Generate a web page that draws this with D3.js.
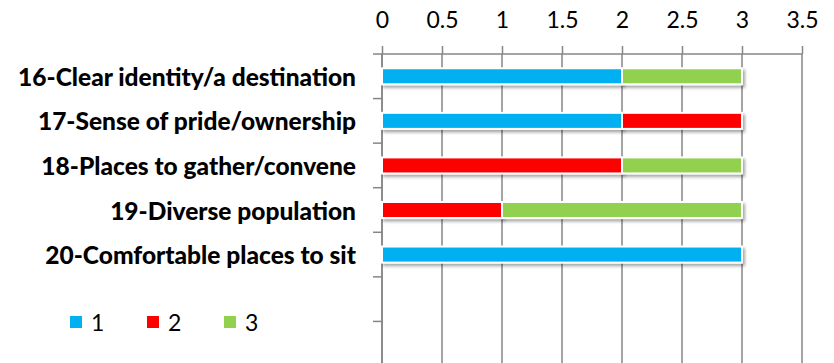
<!DOCTYPE html>
<html>
<head>
<meta charset="utf-8">
<script src="https://cdn.jsdelivr.net/npm/d3@7"></script>
<style>
  html, body { margin: 0; padding: 0; background: #fff; }
  svg { display: block; }
</style>
</head>
<body>
<svg id="chart" width="834" height="363"></svg>
<script>
// Survey items (rows, top to bottom)
const categories = [
  "16-Clear identity/a destination",
  "17-Sense of pride/ownership",
  "18-Places to gather/convene",
  "19-Diverse population",
  "20-Comfortable places to sit"
];
// Stacked series values per item
const seriesNames = ["1", "2", "3"];
const series1 = [2, 2, 0, 0, 3];
const series2 = [0, 1, 2, 1, 0];
const series3 = [1, 0, 1, 2, 0];
const seriesColors = ["#00B0F0", "#FF0000", "#92D050"];
const xTicks = [0, 0.5, 1, 1.5, 2, 2.5, 3, 3.5];
// the category axis reserves seven slots; the last two are unused
const slotCount = 7;

const svg = d3.select("#chart");
const W = 834, H = 363;
const plot = { left: 382, right: 802, top: 54, bottom: 366 };

const x = d3.scaleLinear().domain([0, 3.5]).range([plot.left, plot.right]);
const y = d3.scaleBand().domain(d3.range(slotCount)).range([plot.top, plot.bottom]).paddingInner(0.64).paddingOuter(0.32);
const yEdge = d3.scaleLinear().domain([0, slotCount]).range([plot.top, plot.bottom]);

const defs = svg.append("defs");
const f = defs.append("filter").attr("id", "shadow").attr("x", "-5%").attr("y", "-50%").attr("width", "115%").attr("height", "220%");
f.append("feDropShadow").attr("dx", 2).attr("dy", 2.5).attr("stdDeviation", 1.6)
  .attr("flood-color", "#000").attr("flood-opacity", 0.35);

const gridColor = "#868686";
const font = "Lato, 'Open Sans', sans-serif";

// vertical gridlines
svg.append("g").selectAll("line").data(xTicks).join("line")
  .attr("x1", d => x(d)).attr("x2", d => x(d))
  .attr("y1", plot.top).attr("y2", H + 5)
  .attr("stroke", gridColor).attr("stroke-width", 1.5);

// top axis
const xAxis = d3.axisTop(x).tickValues(xTicks).tickSize(8).tickPadding(18)
  .tickFormat(d => String(d));
const gx = svg.append("g").attr("transform", `translate(0,${plot.top})`).call(xAxis);
gx.select(".domain").remove();
gx.selectAll(".tick line").attr("stroke", gridColor).attr("stroke-width", 1.5);
gx.selectAll(".tick text").attr("fill", "#000")
  .style("font-family", font).style("font-size", "23px");
svg.append("line")
  .attr("x1", plot.left - 9).attr("x2", plot.right)
  .attr("y1", plot.top).attr("y2", plot.top)
  .attr("stroke", gridColor).attr("stroke-width", 1.5);

// left axis line and slot ticks
svg.append("line")
  .attr("x1", plot.left).attr("x2", plot.left)
  .attr("y1", plot.top).attr("y2", H + 5)
  .attr("stroke", gridColor).attr("stroke-width", 1.5);
svg.append("g").selectAll("line").data(d3.range(1, slotCount)).join("line")
  .attr("x1", plot.left - 9).attr("x2", plot.left)
  .attr("y1", d => yEdge(d)).attr("y2", d => yEdge(d))
  .attr("stroke", gridColor).attr("stroke-width", 1.5);

// stacked bars
const rows = categories.map((c, i) => ({ i, v: [series1[i], series2[i], series3[i]] }));
const segs = [];
rows.forEach(r => {
  let acc = 0;
  r.v.forEach((v, k) => {
    if (v > 0) segs.push({ i: r.i, k, x0: acc, x1: acc + v });
    acc += v;
  });
});
svg.append("g").selectAll("rect").data(segs).join("rect")
  .attr("x", d => x(d.x0)).attr("width", d => x(d.x1) - x(d.x0))
  .attr("y", d => y(d.i)).attr("height", y.bandwidth())
  .attr("fill", d => seriesColors[d.k])
  .attr("stroke", "#fff").attr("stroke-width", 2)
  .attr("filter", "url(#shadow)");

// category labels, sized so the longest fits the label column
const labels = svg.append("g").selectAll("text").data(categories).join("text")
  .attr("x", 356).attr("y", (d, i) => y(i) + y.bandwidth() / 2)
  .attr("text-anchor", "end").attr("dominant-baseline", "central")
  .style("font-family", font).style("font-weight", "900")
  .style("font-size", "100px").text(d => d);
const widest = d3.max(labels.nodes(), n => n.getComputedTextLength());
labels.style("font-size", (100 * 338 / widest) + "px");

// legend
const legend = svg.append("g");
seriesNames.forEach((name, k) => {
  const lx = 70 + k * 77;
  legend.append("rect").attr("x", lx).attr("y", 316).attr("width", 12).attr("height", 12)
    .attr("fill", seriesColors[k]);
  legend.append("text").attr("x", lx + 21).attr("y", 322)
    .attr("dominant-baseline", "central")
    .style("font-family", font).style("font-size", "23px")
    .text(name);
});
</script>
</body>
</html>
